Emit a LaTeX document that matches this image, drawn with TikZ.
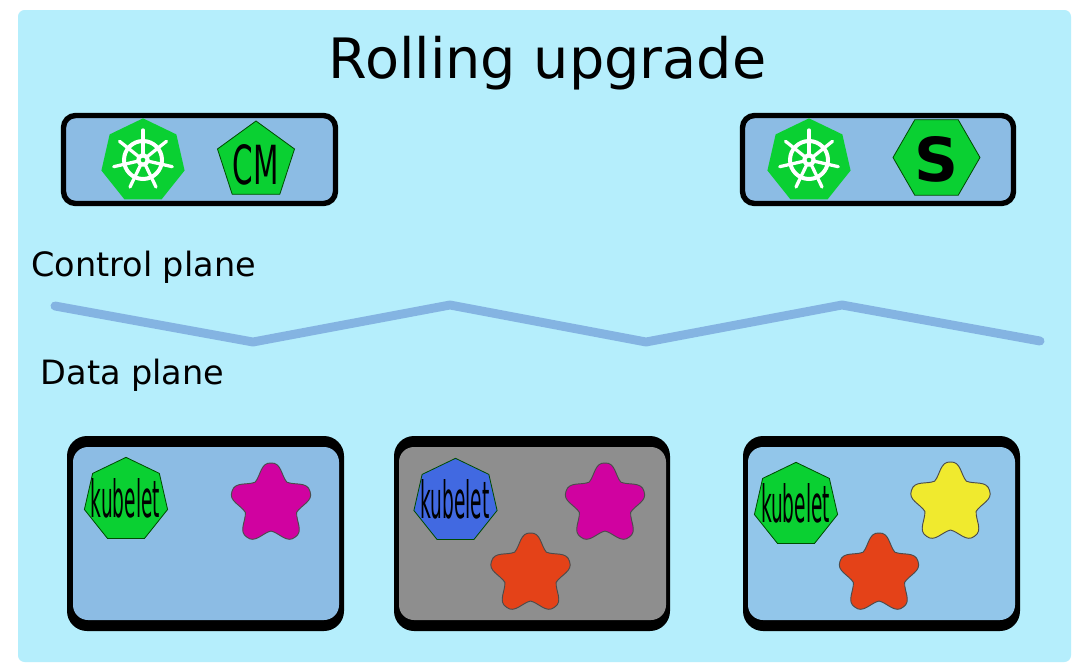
\documentclass[tikz,border=0pt]{standalone}
\usepackage{fontspec}
\setmainfont{DejaVu Sans}
\usetikzlibrary{shapes.geometric}
\definecolor{panelblue}{RGB}{181,238,252}
\definecolor{boxblue}{RGB}{140,188,228}
\definecolor{boxlight}{RGB}{146,198,234}
\definecolor{boxgray}{RGB}{142,142,142}
\definecolor{waveblue}{RGB}{132,180,226}
\definecolor{podgreen}{RGB}{10,208,50}
\definecolor{kubeblue}{RGB}{65,105,225}
\definecolor{starpink}{RGB}{208,2,160}
\definecolor{starorange}{RGB}{228,66,24}
\definecolor{staryellow}{RGB}{240,234,46}
\tikzset{
    heptagon/.style={regular polygon, regular polygon sides=7, minimum size=2.56cm, inner sep=0pt, outer sep=0pt},
    kubeshape/.style={heptagon, draw=black!70!green, line width=0.7pt},
    podstar/.pic={
        \draw[pic actions, draw=black!70, line width=0.8pt] (-126:27)
            \foreach \a in {-90,-18,54,126,198} {
                .. controls (\a-20:30) and (\a-14:43) .. (\a:41)
                .. controls (\a+14:43) and (\a+20:30) .. (\a+36:27)
            } -- cycle;
    },
    helm/.pic={
        \draw[white, line width=3.4pt] (0,0) circle (0.57cm);
        \fill[white] (0,0) circle (0.2cm);
        \fill[podgreen] (0,0) circle (0.07cm);
        \foreach \a in {0,...,6}
            \draw[white, line width=2.8pt, line cap=round] (-90+\a*360/7:4) -- (-90+\a*360/7:30);
    }
}
\begin{document}
\begin{tikzpicture}[x=0.03cm,y=-0.03cm]
    \useasboundingbox (0,0) rectangle (1080,672);
    \fill[white] (0,0) rectangle (1080,672);
    \fill[panelblue, rounded corners=0.2cm] (18,10) rectangle (1071,662);

    % Title and plane labels
    \node[font=\fontsize{47.5}{47.5}\selectfont, anchor=base, inner sep=0pt] (title) at (547.5,78) {Rolling upgrade};
    \node[font=\fontsize{28.6}{28.6}\selectfont, anchor=base west, inner sep=0pt] (control) at (31,276) {Control plane};
    \node[font=\fontsize{28.6}{28.6}\selectfont, anchor=base west, inner sep=0pt] (data) at (40.5,384) {Data plane};

    % Divider between planes
    \draw[waveblue, line width=7.6pt, line cap=round, line join=round]
        (55,306) -- (253,342) -- (450,305) -- (646,342) -- (842,305) -- (1040,341);

    % Control plane boxes
    \draw[fill=boxblue, line width=4.6pt, rounded corners=0.36cm] (63.5,115.5) rectangle (335.5,203.5);
    \draw[fill=boxblue, line width=4.6pt, rounded corners=0.36cm] (742.5,115.5) rectangle (1013.5,203.5);

    \node[heptagon, fill=podgreen] (wheelleft) at (143,161) {};
    \pic at (143,160) {helm};
    \node[regular polygon, regular polygon sides=5, minimum size=2.43cm, inner sep=0pt, outer sep=0pt,
        fill=podgreen, draw=black!70!green, line width=0.7pt] (cm) at (256,161.5) {};
    \node[inner sep=0pt] (cmtext) at (256,165) {\resizebox{1.38cm}{1.2cm}{CM}};
    \node[heptagon, fill=podgreen] (wheelright) at (809,161) {};
    \pic at (809,160) {helm};
    \node[regular polygon, regular polygon sides=6, minimum size=2.61cm, inner sep=0pt, outer sep=0pt,
        fill=podgreen, draw=black!70!green, line width=0.7pt] (sched) at (936.5,157.5) {};
    \node[inner sep=0pt] (schedtext) at (936.5,159.5) {\resizebox{1.32cm}{1.35cm}{\bfseries S}};

    % Data plane boxes
    \fill[black, rounded corners=0.6cm] (67,436) rectangle (344,631);
    \fill[boxblue, rounded corners=0.45cm] (73,447) rectangle (339,620);
    \fill[black, rounded corners=0.6cm] (394,436) rectangle (670,631);
    \fill[boxgray, rounded corners=0.45cm] (399,447) rectangle (666,620);
    \fill[black, rounded corners=0.6cm] (743,436) rectangle (1020,631);
    \fill[boxlight, rounded corners=0.45cm] (748,447) rectangle (1015,620);

    % Kubelets
    \node[kubeshape, fill=podgreen] (kubeone) at (126,500) {};
    \node[inner sep=0pt] (kubeonetext) at (125.5,498.5) {\resizebox{2.07cm}{1.17cm}{kubelet}};
    \node[kubeshape, fill=kubeblue] (kubetwo) at (455.5,501) {};
    \node[inner sep=0pt] (kubetwotext) at (455,499.5) {\resizebox{2.07cm}{1.17cm}{kubelet}};
    \node[kubeshape, fill=podgreen] (kubethree) at (796,505) {};
    \node[inner sep=0pt] (kubethreetext) at (795.5,503.5) {\resizebox{2.07cm}{1.17cm}{kubelet}};

    % Pods
    \pic[fill=starpink] at (271,504) {podstar};
    \pic[fill=starpink] at (605,504) {podstar};
    \pic[fill=starorange] at (530.5,574) {podstar};
    \pic[fill=staryellow] at (950.5,503) {podstar};
    \pic[fill=starorange] at (879,574) {podstar};
\end{tikzpicture}
\end{document}
